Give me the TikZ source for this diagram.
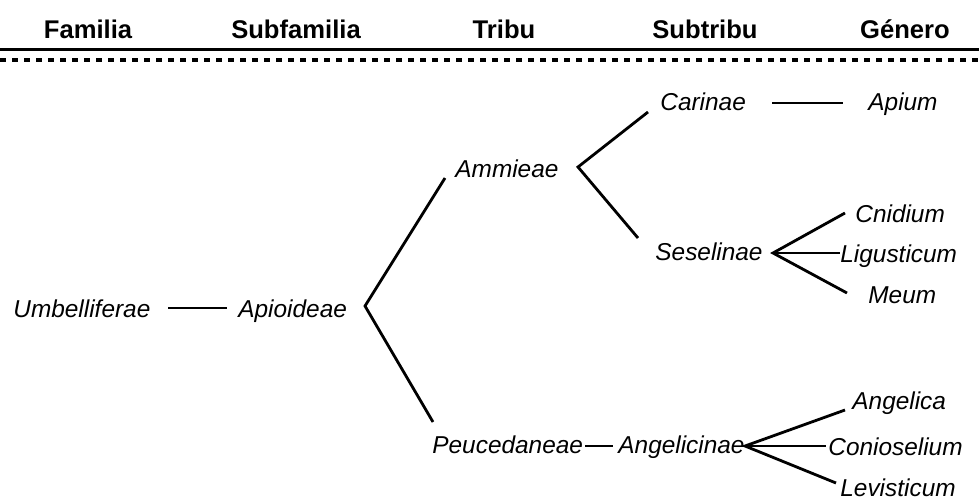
\documentclass[tikz,border=0pt]{standalone}
\usepackage{fontspec}
\setmainfont{Liberation Sans}
\begin{document}
\begin{tikzpicture}[x=0.5pt,y=-0.5pt,
  hdr/.style={anchor=base, inner sep=0pt, font=\fontsize{12.8}{15}\selectfont\bfseries},
  tax/.style={anchor=base west, inner sep=0pt, font=\fontsize{12.2}{14}\selectfont\itshape},
  link/.style={line width=1.4pt, line cap=butt},
  rulesolid/.style={line width=1.5pt},
  ruledots/.style={line width=2pt, dash pattern=on 3pt off 3pt}
  ]
\useasboundingbox (0,0) rectangle (979,499);
% header
\node[hdr] (hfam) at (88,38) {Familia};
\node[hdr] (hsub) at (296,38) {Subfamilia};
\node[hdr] (htri) at (504,38) {Tribu};
\node[hdr] (hstr) at (705,38) {Subtribu};
\node[hdr] (hgen) at (905,38) {Género};
\coordinate (rl) at (0,49);  \coordinate (rr) at (979,49);
\coordinate (dl) at (0,60);  \coordinate (dr) at (979,60);
\draw[rulesolid] (rl) -- (rr);
\draw[ruledots] (dl) -- (dr);
% taxa
\node[tax] (umb)  at (13,317)  {Umbelliferae};
\node[tax] (apio) at (238,317) {Apioideae};
\node[tax] (ammi) at (455,177) {Ammieae};
\node[tax] (peuc) at (432,453) {Peucedaneae};
\node[tax] (cari) at (660,110) {Carinae};
\node[tax] (sese) at (655,260) {Seselinae};
\node[tax] (angn) at (618,453) {Angelicinae};
\node[tax] (apium) at (868,110) {Apium};
\node[tax] (cnid) at (855,222) {Cnidium};
\node[tax] (ligu) at (840,262) {Ligusticum};
\node[tax] (meum) at (868,303) {Meum};
\node[tax] (ange) at (852,409) {Angelica};
\node[tax] (coni) at (828,455) {Conioselium};
\node[tax] (levi) at (840,496) {Levisticum};
% connector points
\coordinate (umbR) at (168,308); \coordinate (apioL) at (227,308);
\coordinate (apV) at (365,306); \coordinate (apU) at (445,178); \coordinate (apD) at (433,422);
\coordinate (amV) at (578,167); \coordinate (amU) at (648,112); \coordinate (amD) at (638,238);
\coordinate (cariR) at (772,103); \coordinate (apiumL) at (843,103);
\coordinate (seV) at (773,253); \coordinate (seU) at (845,213); \coordinate (seM) at (840,253); \coordinate (seD) at (847,293);
\coordinate (peucR) at (585,446); \coordinate (angnL) at (613,446);
\coordinate (anV) at (745,446); \coordinate (anU) at (845,410); \coordinate (anM) at (826,446); \coordinate (anD) at (836,483);
% connectors
\draw[link] (umbR) -- (apioL);
\draw[link] (apU) -- (apV) -- (apD);
\draw[link] (amU) -- (amV) -- (amD);
\draw[link] (cariR) -- (apiumL);
\draw[link] (seU) -- (seV) -- (seD);
\draw[link] (seV) -- (seM);
\draw[link] (peucR) -- (angnL);
\draw[link] (anU) -- (anV) -- (anD);
\draw[link] (anV) -- (anM);
\end{tikzpicture}
\end{document}
